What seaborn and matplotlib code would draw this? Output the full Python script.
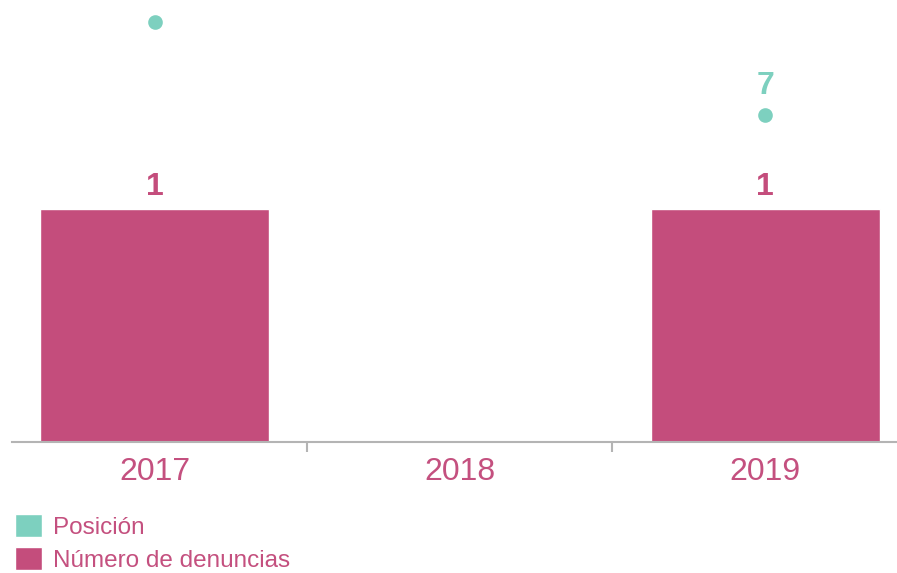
import numpy as np
import pandas as pd
import matplotlib
matplotlib.use("Agg")
import matplotlib.pyplot as plt
import seaborn as sns
from matplotlib.patches import Patch

years = ["2017", "2018", "2019"]
denuncias = [1, np.nan, 1]
posicion = [9, np.nan, 7]

bar_color = "#c44d7c"
pos_color = "#7dd0bf"
text_color = "#c4507f"

sns.set_theme(style="white")
plt.rcParams["font.family"] = ["Liberation Sans", "DejaVu Sans"]

df = pd.DataFrame({"year": years, "denuncias": denuncias, "posicion": posicion})

fig = plt.figure(figsize=(8.97, 5.73), dpi=100)
ax = fig.add_axes([12 / 897, 1 - 442 / 573, 885 / 897, 442 / 573])

sns.barplot(data=df, x="year", y="denuncias", order=years, color=bar_color,
            width=0.75, saturation=1, ax=ax)

ax2 = ax.twinx()
sns.pointplot(data=df, x="year", y="posicion", order=years, color=pos_color,
              linestyle="none", markersize=8.5, ax=ax2)

ax.set_xlim(-0.467, 2.432)
ax.set_ylim(0, 442 / 233)
pos_top = 442 / 46.7
ax2.set_ylim(0, pos_top)

# value labels
for i, v in enumerate(denuncias):
    if not np.isnan(v):
        ax.annotate(f"{v:g}", (i, v), xytext=(0, 5), textcoords="offset points",
                    ha="center", va="bottom", fontsize=23, fontweight="bold",
                    color=bar_color)
for i, v in enumerate(posicion):
    # label of the top point falls outside the visible area in the reference
    if not np.isnan(v) and v < pos_top - 1.2:
        ax2.annotate(f"{v:g}", (i, v), xytext=(0, 10), textcoords="offset points",
                     ha="center", va="bottom", fontsize=23, fontweight="bold",
                     color=pos_color)

for a in (ax, ax2):
    for s in ["top", "right", "left"]:
        a.spines[s].set_visible(False)
    a.set_ylabel("")
    a.set_yticks([])
ax2.spines["bottom"].set_visible(False)
ax.spines["bottom"].set_color("#b4b4b4")
ax.spines["bottom"].set_linewidth(1.5)
ax.set_xlabel("")

ax.set_xticks([0, 1, 2])
ax.set_xticklabels(years, fontsize=23, color=text_color)
ax.tick_params(axis="x", which="major", length=0, pad=11)
ax.set_xticks([0.5, 1.5], minor=True)
ax.tick_params(axis="x", which="minor", length=7, width=1.5, color="#b4b4b4",
               bottom=True)

handles = [Patch(facecolor=pos_color, label="Posición"),
           Patch(facecolor=bar_color, label="Número de denuncias")]
leg = fig.legend(handles=handles, loc="upper left",
                 bbox_to_anchor=(15 / 897, 1 - 514 / 573),
                 frameon=False, fontsize=17.5, handlelength=1.1, handleheight=1.05,
                 handletextpad=0.45, labelspacing=0.35, borderaxespad=0,
                 borderpad=0)
for t in leg.get_texts():
    t.set_color(text_color)

fig.savefig("out.png", dpi=100)
